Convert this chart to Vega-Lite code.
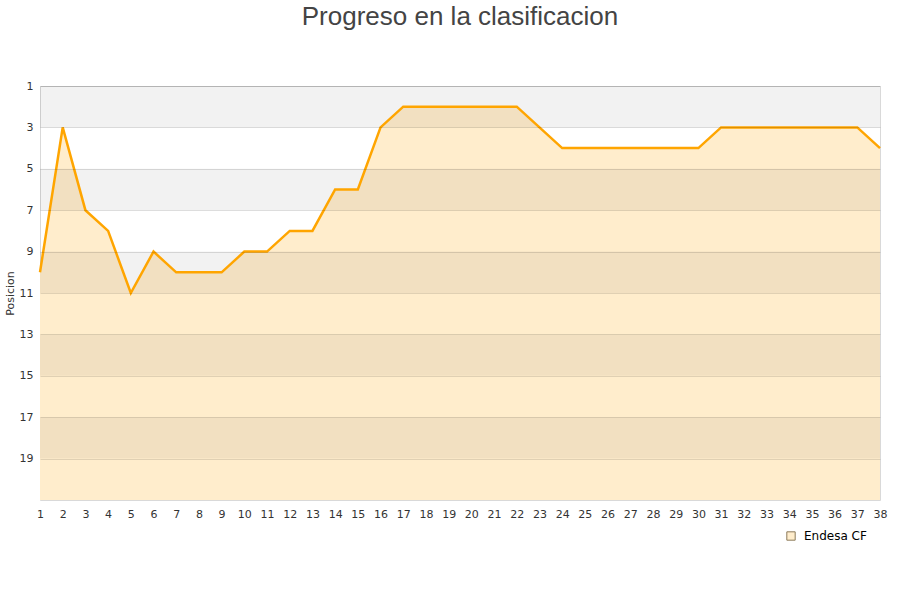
{
  "$schema": "https://vega.github.io/schema/vega-lite/v6.json",
  "width": 840,
  "height": 414,
  "autosize": "none",
  "padding": {"left": 40, "top": 86, "right": 20, "bottom": 100},
  "background": "white",
  "config": {
    "view": {"stroke": "#d9d9d9", "strokeWidth": 1},
    "font": "DejaVu Sans"
  },
  "title": {
    "text": "Progreso en la clasificacion",
    "fontSize": 26,
    "font": "Liberation Sans",
    "fontWeight": "normal",
    "color": "#444444",
    "anchor": "middle",
    "frame": "group",
    "offset": 50
  },
  "datasets": {
    "pos": [
      {"jornada": 1, "posicion": 10, "equipo": "Endesa CF"},
      {"jornada": 2, "posicion": 3, "equipo": "Endesa CF"},
      {"jornada": 3, "posicion": 7, "equipo": "Endesa CF"},
      {"jornada": 4, "posicion": 8, "equipo": "Endesa CF"},
      {"jornada": 5, "posicion": 11, "equipo": "Endesa CF"},
      {"jornada": 6, "posicion": 9, "equipo": "Endesa CF"},
      {"jornada": 7, "posicion": 10, "equipo": "Endesa CF"},
      {"jornada": 8, "posicion": 10, "equipo": "Endesa CF"},
      {"jornada": 9, "posicion": 10, "equipo": "Endesa CF"},
      {"jornada": 10, "posicion": 9, "equipo": "Endesa CF"},
      {"jornada": 11, "posicion": 9, "equipo": "Endesa CF"},
      {"jornada": 12, "posicion": 8, "equipo": "Endesa CF"},
      {"jornada": 13, "posicion": 8, "equipo": "Endesa CF"},
      {"jornada": 14, "posicion": 6, "equipo": "Endesa CF"},
      {"jornada": 15, "posicion": 6, "equipo": "Endesa CF"},
      {"jornada": 16, "posicion": 3, "equipo": "Endesa CF"},
      {"jornada": 17, "posicion": 2, "equipo": "Endesa CF"},
      {"jornada": 18, "posicion": 2, "equipo": "Endesa CF"},
      {"jornada": 19, "posicion": 2, "equipo": "Endesa CF"},
      {"jornada": 20, "posicion": 2, "equipo": "Endesa CF"},
      {"jornada": 21, "posicion": 2, "equipo": "Endesa CF"},
      {"jornada": 22, "posicion": 2, "equipo": "Endesa CF"},
      {"jornada": 23, "posicion": 3, "equipo": "Endesa CF"},
      {"jornada": 24, "posicion": 4, "equipo": "Endesa CF"},
      {"jornada": 25, "posicion": 4, "equipo": "Endesa CF"},
      {"jornada": 26, "posicion": 4, "equipo": "Endesa CF"},
      {"jornada": 27, "posicion": 4, "equipo": "Endesa CF"},
      {"jornada": 28, "posicion": 4, "equipo": "Endesa CF"},
      {"jornada": 29, "posicion": 4, "equipo": "Endesa CF"},
      {"jornada": 30, "posicion": 4, "equipo": "Endesa CF"},
      {"jornada": 31, "posicion": 3, "equipo": "Endesa CF"},
      {"jornada": 32, "posicion": 3, "equipo": "Endesa CF"},
      {"jornada": 33, "posicion": 3, "equipo": "Endesa CF"},
      {"jornada": 34, "posicion": 3, "equipo": "Endesa CF"},
      {"jornada": 35, "posicion": 3, "equipo": "Endesa CF"},
      {"jornada": 36, "posicion": 3, "equipo": "Endesa CF"},
      {"jornada": 37, "posicion": 3, "equipo": "Endesa CF"},
      {"jornada": 38, "posicion": 4, "equipo": "Endesa CF"}
    ],
    "bands": [
      {"desde": 1, "hasta": 3},
      {"desde": 5, "hasta": 7},
      {"desde": 9, "hasta": 11},
      {"desde": 13, "hasta": 15},
      {"desde": 17, "hasta": 19}
    ]
  },
  "layer": [
    {
      "data": {"name": "pos"},
      "mark": {"type": "area", "fillOpacity": 1, "interpolate": "linear"},
      "encoding": {
        "x": {"field": "jornada", "type": "ordinal", "sort": "ascending", "scale": {"type": "point", "padding": 0},
              "axis": {"title": null, "labelAngle": 0, "labelFontSize": 11, "labelColor": "#333333", "labelPadding": 8, "ticks": false, "domain": false, "grid": false, "labelOverlap": false, "labelBound": false}},
        "y": {"field": "posicion", "type": "quantitative", "scale": {"domain": [1, 21], "reverse": true, "nice": false, "zero": false},
              "axis": {"values": [1,3,5,7,9,11,13,15,17,19], "title": "Posicion", "titleFontSize": 11, "titleFontWeight": "normal", "titleColor": "#333333", "titleX": -30, "titleY": 207, "titleAlign": "center", "titleBaseline": "middle", "labelFontSize": 11, "labelColor": "#333333", "labelPadding": 7, "ticks": false, "domain": false, "grid": true, "gridColor": "#000000", "gridOpacity": 0.12, "zindex": 1, "format": "d"}},
        "y2": {"datum": 21},
        "fill": {"field": "equipo", "type": "nominal", "scale": {"range": ["#FFEDCC"]},
                 "legend": {"title": null, "orient": "none", "legendX": 745, "legendY": 444, "symbolType": "square", "symbolSize": 70, "symbolStrokeColor": "#8c7a5a", "symbolStrokeWidth": 1, "labelFontSize": 12, "labelColor": "#000000", "labelOffset": 7}}
      }
    },
    {
      "data": {"name": "bands"},
      "mark": {"type": "rect", "color": "#000000", "opacity": 0.05},
      "encoding": {
        "y": {"field": "desde", "type": "quantitative"},
        "y2": {"field": "hasta"}
      }
    },
    {
      "data": {"name": "pos"},
      "mark": {"type": "line", "color": "#FFA500", "strokeWidth": 2.5},
      "encoding": {
        "x": {"field": "jornada", "type": "ordinal", "sort": "ascending"},
        "y": {"field": "posicion", "type": "quantitative"}
      }
    }
  ]
}
